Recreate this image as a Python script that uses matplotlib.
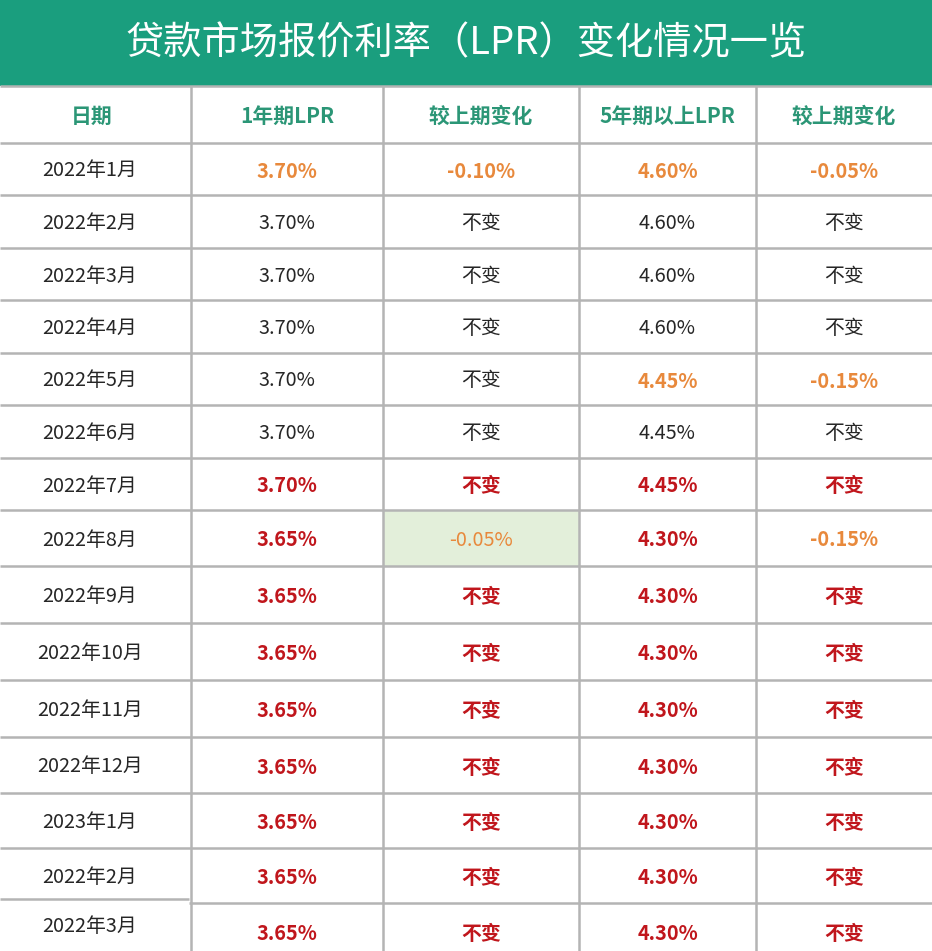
import matplotlib
matplotlib.use("Agg")
import matplotlib.pyplot as plt
from matplotlib.patches import Rectangle

plt.rcParams['font.family'] = ['Noto Sans CJK SC', 'DejaVu Sans']

title = "贷款市场报价利率（LPR）变化情况一览"
headers = ["日期", "1年期LPR", "较上期变化", "5年期以上LPR", "较上期变化"]
dates = ["2022年1月", "2022年2月", "2022年3月", "2022年4月", "2022年5月", "2022年6月",
         "2022年7月", "2022年8月", "2022年9月", "2022年10月", "2022年11月", "2022年12月",
         "2023年1月", "2022年2月", "2022年3月"]
lpr1 = ["3.70%"] * 7 + ["3.65%"] * 8
chg1 = ["-0.10%", "不变", "不变", "不变", "不变", "不变", "不变", "-0.05%"] + ["不变"] * 7
lpr5 = ["4.60%"] * 4 + ["4.45%"] * 3 + ["4.30%"] * 8
chg5 = ["-0.05%", "不变", "不变", "不变", "-0.15%", "不变", "不变", "-0.15%"] + ["不变"] * 7

# style codes: k = black normal, o = orange, r = red bold, h = orange on highlighted cell
sty1 = ["o", "k", "k", "k", "k", "k", "r", "r"] + ["r"] * 7
styc1 = ["o", "k", "k", "k", "k", "k", "r", "h"] + ["r"] * 7
sty5 = ["o", "k", "k", "k", "o", "k", "r", "r"] + ["r"] * 7
styc5 = ["o", "k", "k", "k", "o", "k", "r", "o"] + ["r"] * 7

W, H = 932, 951
fig = plt.figure(figsize=(W / 100, H / 100), dpi=100)
ax = fig.add_axes([0, 0, 1, 1])
ax.set_xlim(0, W)
ax.set_ylim(H, 0)
ax.axis('off')

GREEN = "#1a9e7e"
HEAD_TXT = "#2b9676"
ORANGE = "#e8893c"
RED = "#c0161c"
BLACK = "#262626"
HILITE = "#e3efda"
GRID = "#b4b4b4"

col_edges = [0, 191, 383, 579, 756, W]
row_edges = [86, 143, 195, 248, 300, 353, 405, 458, 510, 566, 623, 680, 737, 793, 848, 903, 960]

# title bar
ax.add_patch(Rectangle((0, 0), W, 86, color=GREEN, lw=0))
ax.text(W / 2 + 0, 44, title, color="white", fontsize=27.5, ha="center", va="center")

# highlight cell
hr = styc1.index("h") + 1
ax.add_patch(Rectangle((col_edges[2], row_edges[hr]), col_edges[3] - col_edges[2],
                       row_edges[hr + 1] - row_edges[hr], color=HILITE, lw=0, zorder=0))

# grid lines
for k, y in enumerate(row_edges[:-1]):
    if k == len(row_edges) - 2:
        ax.plot([0, 189], [y - 4, y - 4], color=GRID, lw=1.8, solid_capstyle="butt", zorder=1)
        ax.plot([189, W], [y, y], color=GRID, lw=1.8, solid_capstyle="butt", zorder=1)
    else:
        ax.plot([0, W], [y, y], color=GRID, lw=1.8, solid_capstyle="butt", zorder=1)
for x in col_edges[1:-1]:
    ax.plot([x, x], [86, H], color=GRID, lw=1.8, solid_capstyle="butt", zorder=1)

def cx(i):
    return (col_edges[i] + col_edges[i + 1]) / 2

def cy(r):
    return (row_edges[r] + row_edges[r + 1]) / 2 + 2

for i, h in enumerate(headers):
    ax.text(cx(i) - (4 if i == 0 else 0), cy(0), h, color=HEAD_TXT, fontsize=15, fontweight="bold",
            ha="center", va="center")

def style(code):
    if code == "o":
        return ORANGE, "bold"
    if code == "h":
        return ORANGE, "normal"
    if code == "r":
        return RED, "bold"
    return BLACK, "normal"

for r in range(len(dates)):
    y = cy(r + 1)
    yd = y
    if r == len(dates) - 1:
        y = 933
        yd = 926
    ax.text(90, yd, dates[r], color=BLACK, fontsize=14.3, ha="center", va="center")
    for ci, (vals, sts) in enumerate([(lpr1, sty1), (chg1, styc1), (lpr5, sty5), (chg5, styc5)], start=1):
        c, w = style(sts[r])
        ax.text(cx(ci), y, vals[r], color=c, fontsize=14.3, fontweight=w,
                ha="center", va="center")

fig.savefig("out.png", dpi=100, facecolor="white")
